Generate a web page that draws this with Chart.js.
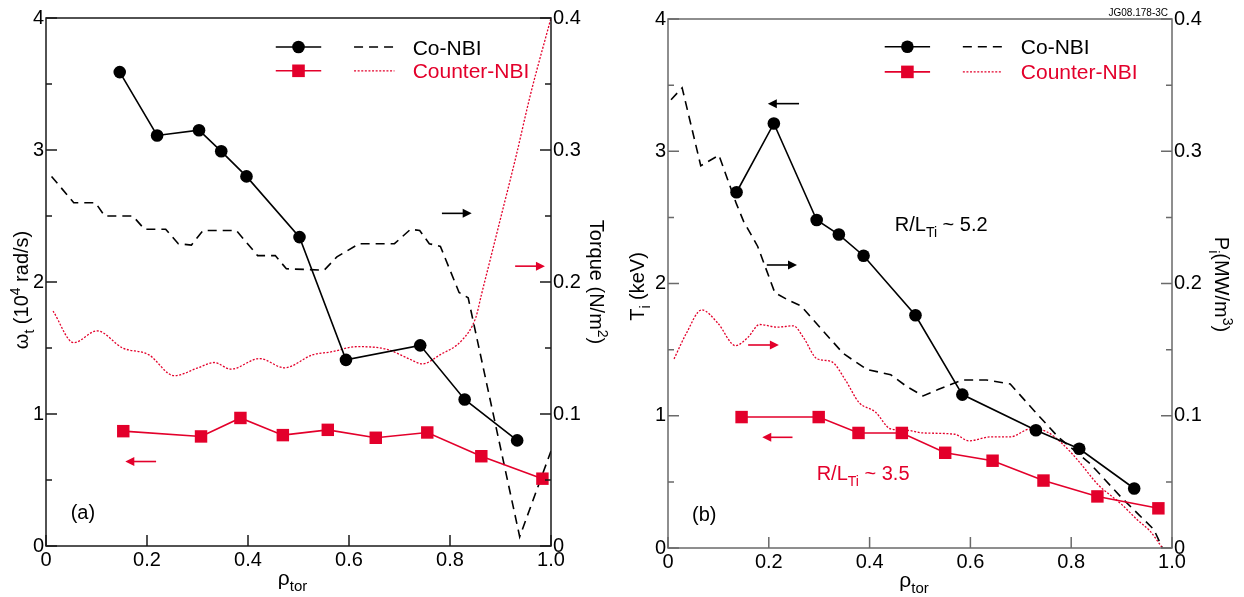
<!DOCTYPE html>
<html>
<head>
<meta charset="utf-8">
<title>Co-NBI / Counter-NBI profiles</title>
<script src="https://cdn.jsdelivr.net/npm/chart.js@4.4.1/dist/chart.umd.min.js"></script>
<style>
  body { margin: 0; background: #fff; }
  #wrap { position: relative; width: 1244px; height: 597px; }
  canvas { position: absolute; top: 0; }
  #chart-a { left: 0; }
  #chart-b { left: 620px; }
</style>
</head>
<body>
<div id="wrap">
  <canvas id="chart-a" width="620" height="597"></canvas>
  <canvas id="chart-b" width="624" height="597"></canvas>
</div>
<script>
const FONT = '"Liberation Sans", Arial, Helvetica, sans-serif'
const BLACK = '#000000'
const RED = '#e3002b'

// tick values and labels (shared by both panels)
const rhoTicks = [0, 0.2, 0.4, 0.6, 0.8, 1.0]
const rhoTickLabels = ['0', '0.2', '0.4', '0.6', '0.8', '1.0']
const leftTicks = [0, 1, 2, 3, 4]
const leftTickLabels = ['0', '1', '2', '3', '4']
const leftMinorTicks = [0.5, 1.5, 2.5, 3.5]
const rightTicks = [0, 0.1, 0.2, 0.3, 0.4]
const rightTickLabels = ['0', '0.1', '0.2', '0.3', '0.4']

// (a) rotation omega_t, Co-NBI (circles, left axis)
const rhoRotCoA = [0.146, 0.220, 0.303, 0.347, 0.397, 0.502, 0.594, 0.741, 0.829, 0.933]
const rotCoA = [3.59, 3.11, 3.15, 2.99, 2.80, 2.34, 1.41, 1.52, 1.11, 0.80]
// (a) rotation omega_t, Counter-NBI (squares, left axis)
const rhoRotCtrA = [0.153, 0.307, 0.385, 0.469, 0.558, 0.653, 0.755, 0.862, 0.983]
const rotCtrA = [0.87, 0.83, 0.97, 0.84, 0.88, 0.82, 0.86, 0.68, 0.51]
// (a) torque, Co-NBI (dashed, right axis)
const rhoTqCoA = [0.011, 0.055, 0.098, 0.116, 0.172, 0.195, 0.237, 0.262, 0.288, 0.311, 0.377, 0.419, 0.454,
  0.476, 0.551, 0.576, 0.620, 0.690, 0.722, 0.740, 0.759, 0.781, 0.818, 0.836, 0.938, 1.0]
const tqCoA = [0.280, 0.260, 0.260, 0.250, 0.250, 0.240, 0.240, 0.229, 0.228, 0.239, 0.239, 0.220, 0.220,
  0.210, 0.209, 0.219, 0.229, 0.229, 0.240, 0.239, 0.229, 0.227, 0.192, 0.188, 0.007, 0.072]
// (a) torque, Counter-NBI (dotted, right axis)
const rhoTqCtrA = [0.014, 0.055, 0.101, 0.152, 0.203, 0.254, 0.301, 0.333, 0.366, 0.423, 0.472, 0.529, 0.564,
  0.616, 0.675, 0.718, 0.745, 0.781, 0.824, 0.851, 0.862, 0.900, 0.930, 0.960, 1.0]
const tqCtrA = [0.178, 0.154, 0.163, 0.150, 0.145, 0.129, 0.135, 0.139, 0.134, 0.142, 0.135, 0.145, 0.147,
  0.151, 0.149, 0.142, 0.138, 0.145, 0.156, 0.173, 0.190, 0.248, 0.294, 0.343, 0.400]

// (b) ion temperature, Co-NBI (circles, left axis)
const rhoTiCoB = [0.136, 0.210, 0.295, 0.339, 0.388, 0.491, 0.584, 0.730, 0.816, 0.925]
const tiCoB = [2.69, 3.21, 2.48, 2.37, 2.21, 1.76, 1.16, 0.89, 0.75, 0.45]
// (b) ion temperature, Counter-NBI (squares, left axis)
const rhoTiCtrB = [0.146, 0.299, 0.378, 0.464, 0.550, 0.644, 0.745, 0.852, 0.973]
const tiCtrB = [0.99, 0.99, 0.87, 0.87, 0.72, 0.66, 0.51, 0.39, 0.30]
// (b) ion heating power, Co-NBI (dashed, right axis)
const rhoPiCoB = [0.006, 0.028, 0.065, 0.101, 0.136, 0.150, 0.178, 0.212, 0.241, 0.264, 0.308, 0.348, 0.395,
  0.442, 0.474, 0.506, 0.537, 0.584, 0.632, 0.679, 0.726, 0.774, 0.837, 0.900, 0.932, 0.964, 0.981]
const piCoB = [0.339, 0.348, 0.289, 0.297, 0.260, 0.247, 0.228, 0.193, 0.187, 0.183, 0.164, 0.147, 0.135,
  0.131, 0.122, 0.115, 0.120, 0.127, 0.127, 0.124, 0.104, 0.084, 0.064, 0.038, 0.026, 0.014, 0]
// (b) ion heating power, Counter-NBI (dotted, right axis)
const rhoPiCtrB = [0.012, 0.036, 0.067, 0.099, 0.134, 0.158, 0.182, 0.217, 0.249, 0.269, 0.296, 0.324, 0.352,
  0.379, 0.411, 0.442, 0.474, 0.506, 0.569, 0.597, 0.640, 0.679, 0.719, 0.751, 0.782, 0.814, 0.853, 0.900,
  0.932, 0.956, 0.981]
const piCtrB = [0.143, 0.162, 0.180, 0.170, 0.153, 0.159, 0.169, 0.167, 0.168, 0.159, 0.143, 0.141, 0.127,
  0.110, 0.103, 0.090, 0.089, 0.087, 0.086, 0.081, 0.084, 0.084, 0.090, 0.088, 0.079, 0.066, 0.048, 0.033,
  0.021, 0.013, 0]

const legendLabels = ['Co-NBI', 'Counter-NBI']

const pts = (xs, ys) => xs.map((x, i) => ({ x, y: ys[i] }))

// draw text made of [text, 'sub'|'sup'|undefined] parts, y is the cap centre
function drawRich(ctx, parts, x, y, o) {
  const size = o.size
  const fontFor = (k) => `${k ? Math.round(size * 0.7) : size}px ${FONT}`
  const widths = parts.map(([t, k]) => {
    ctx.font = fontFor(k)
    return ctx.measureText(t).width
  })
  const total = widths.reduce((a, b) => a + b, 0)
  ctx.save()
  ctx.translate(x, y)
  if (o.rotate) ctx.rotate(o.rotate)
  ctx.fillStyle = o.color || BLACK
  ctx.textBaseline = 'alphabetic'
  ctx.textAlign = 'left'
  let cx = o.align === 'center' ? -total / 2 : o.align === 'right' ? -total : 0
  parts.forEach(([t, k], i) => {
    ctx.font = fontFor(k)
    const dy = k === 'sub' ? size * 0.3 : k === 'sup' ? -size * 0.42 : 0
    ctx.fillText(t, cx, size * 0.36 + dy)
    cx += widths[i]
  })
  ctx.restore()
}

function drawArrow(ctx, x1, x2, y, color) {
  const dir = Math.sign(x2 - x1)
  ctx.save()
  ctx.strokeStyle = color
  ctx.fillStyle = color
  ctx.lineWidth = 1.6
  ctx.beginPath()
  ctx.moveTo(x1, y)
  ctx.lineTo(x2 - dir * 6, y)
  ctx.stroke()
  ctx.beginPath()
  ctx.moveTo(x2, y)
  ctx.lineTo(x2 - dir * 9, y - 4.5)
  ctx.lineTo(x2 - dir * 9, y + 4.5)
  ctx.closePath()
  ctx.fill()
  ctx.restore()
}

// frame, inward ticks, axis titles, legend and notes
const decorPlugin = {
  id: 'decor',
  afterDatasetsDraw(chart, args, o) {
    const { ctx, chartArea: a, scales } = chart
    const sx = scales.x
    const sy = scales.y
    ctx.save()
    ctx.strokeStyle = o.frameColor
    ctx.lineWidth = 1.5
    ctx.strokeRect(a.left, a.top, a.right - a.left, a.bottom - a.top)
    ctx.beginPath()
    rhoTicks.forEach((v) => {
      const px = sx.getPixelForValue(v)
      ctx.moveTo(px, a.bottom)
      ctx.lineTo(px, a.bottom - 11)
    })
    const yTick = (v, len) => {
      const py = sy.getPixelForValue(v)
      ctx.moveTo(a.left, py)
      ctx.lineTo(a.left + len, py)
      ctx.moveTo(a.right, py)
      ctx.lineTo(a.right - len, py)
    }
    leftTicks.forEach((v) => yTick(v, 11))
    leftMinorTicks.forEach((v) => yTick(v, 6))
    ctx.stroke()
    ctx.restore()

    // axis titles
    const midY = (a.top + a.bottom) / 2
    drawRich(ctx, o.leftTitle, a.left + o.leftTitleDx, midY + o.leftTitleDy,
      { size: 20, align: 'center', rotate: -Math.PI / 2 })
    drawRich(ctx, o.rightTitle, a.right + o.rightTitleDx, midY + o.rightTitleDy,
      { size: 20, align: 'center', rotate: Math.PI / 2 })
    drawRich(ctx, [['ρ'], ['tor', 'sub']], (a.left + a.right) / 2 - 6, a.bottom + 31,
      { size: 21, align: 'center' })

    // legend
    const lg = o.legend
    const rows = [
      { y: lg.yCo, color: BLACK, marker: 'circle', dash: [9, 6], label: legendLabels[0] },
      { y: lg.yCtr, color: RED, marker: 'rect', dash: [2, 1.6], label: legendLabels[1] },
    ]
    rows.forEach((r) => {
      const py = sy.getPixelForValue(r.y)
      ctx.save()
      ctx.strokeStyle = r.color
      ctx.fillStyle = r.color
      ctx.lineWidth = 1.6
      ctx.beginPath()
      ctx.moveTo(sx.getPixelForValue(lg.line[0]), py)
      ctx.lineTo(sx.getPixelForValue(lg.line[1]), py)
      ctx.stroke()
      const mx = sx.getPixelForValue((lg.line[0] + lg.line[1]) / 2)
      ctx.beginPath()
      if (r.marker === 'circle') ctx.arc(mx, py, 6.3, 0, Math.PI * 2)
      else ctx.rect(mx - 6.3, py - 6.3, 12.6, 12.6)
      ctx.fill()
      ctx.setLineDash(r.dash)
      ctx.lineWidth = r.marker === 'circle' ? 1.6 : 1.3
      ctx.beginPath()
      ctx.moveTo(sx.getPixelForValue(lg.dash[0]), py)
      ctx.lineTo(sx.getPixelForValue(lg.dash[1]), py)
      ctx.stroke()
      ctx.restore()
      drawRich(ctx, [[r.label]], sx.getPixelForValue(lg.text), py, { size: 21, color: r.color })
    })

    // notes and arrows
    o.notes.forEach((n) => {
      drawRich(ctx, n.parts, sx.getPixelForValue(n.x), sy.getPixelForValue(n.y),
        { size: 20, color: n.color, align: n.align })
    })
    o.arrows.forEach((ar) => {
      drawArrow(ctx, sx.getPixelForValue(ar.x1), sx.getPixelForValue(ar.x2), sy.getPixelForValue(ar.y), ar.color)
    })
    if (o.tag) {
      ctx.save()
      ctx.font = `10px ${FONT}`
      ctx.fillStyle = BLACK
      ctx.textAlign = 'right'
      ctx.textBaseline = 'alphabetic'
      ctx.fillText(o.tag, a.right - 4, a.top - 3)
      ctx.restore()
    }
  },
}

function axisTicks(values, labels) {
  return {
    afterBuildTicks: (scale) => {
      scale.ticks = values.map((v) => ({ value: v }))
    },
    ticks: {
      autoSkip: false,
      maxRotation: 0,
      color: BLACK,
      font: { family: FONT, size: 20 },
      padding: 2,
      callback: (v, i) => labels[i],
    },
    grid: { display: false, drawTicks: false },
    border: { display: false },
  }
}

function makePanel(id, p) {
  const ctx = document.getElementById(id)
  return new Chart(ctx, {
    type: 'line',
    data: {
      datasets: [
        {
          data: p.co,
          yAxisID: 'y',
          borderColor: BLACK,
          backgroundColor: BLACK,
          borderWidth: 1.6,
          pointStyle: 'circle',
          pointRadius: 6.3,
          pointBorderWidth: 0,
          tension: 0,
        },
        {
          data: p.ctr,
          yAxisID: 'y',
          borderColor: RED,
          backgroundColor: RED,
          borderWidth: 1.6,
          pointStyle: 'rect',
          pointRadius: 8.8,
          pointBorderWidth: 0,
          tension: 0,
        },
        {
          data: p.coR,
          yAxisID: 'y1',
          borderColor: BLACK,
          borderWidth: 1.6,
          borderDash: [9, 6],
          pointRadius: 0,
          tension: 0,
        },
        {
          data: p.ctrR,
          yAxisID: 'y1',
          borderColor: RED,
          borderWidth: 1.3,
          borderDash: [2, 1.6],
          pointRadius: 0,
          cubicInterpolationMode: 'monotone',
        },
      ],
    },
    options: {
      responsive: false,
      animation: false,
      events: [],
      layout: { padding: { top: p.top, left: 0, right: 0, bottom: 0 } },
      plugins: {
        legend: { display: false },
        tooltip: { enabled: false },
        decor: p.decor,
      },
      scales: {
        x: {
          type: 'linear',
          min: 0,
          max: 1,
          afterFit: (s) => {
            s.height = p.bottomH
          },
          ...axisTicks(rhoTicks, rhoTickLabels),
        },
        y: {
          position: 'left',
          min: 0,
          max: 4,
          afterFit: (s) => {
            s.width = p.leftW
          },
          ...axisTicks(leftTicks, leftTickLabels),
        },
        y1: {
          position: 'right',
          min: 0,
          max: 0.4,
          afterFit: (s) => {
            s.width = p.rightW
          },
          ...axisTicks(rightTicks, rightTickLabels),
        },
      },
    },
    plugins: [decorPlugin],
  })
}

const charts = {}

charts.a = makePanel('chart-a', {
  co: pts(rhoRotCoA, rotCoA),
  ctr: pts(rhoRotCtrA, rotCtrA),
  coR: pts(rhoTqCoA, tqCoA),
  ctrR: pts(rhoTqCtrA, tqCtrA),
  top: 18,
  bottomH: 51,
  leftW: 46,
  rightW: 69,
  decor: {
    frameColor: '#1a1a1a',
    leftTitle: [['ω'], ['t', 'sub'], [' (10'], ['4', 'sup'], [' rad/s)']],
    leftTitleDx: -25,
    leftTitleDy: 8,
    rightTitle: [['Torque (N/m'], ['2', 'sup'], [')']],
    rightTitleDx: 46,
    rightTitleDy: 0,
    legend: { line: [0.455, 0.545], dash: [0.61, 0.69], text: 0.726, yCo: 3.78, yCtr: 3.6 },
    notes: [{ parts: [['(a)']], x: 0.073, y: 0.26, color: BLACK, align: 'center' }],
    arrows: [
      { x1: 0.784, x2: 0.843, y: 2.52, color: BLACK },
      { x1: 0.929, x2: 0.988, y: 2.12, color: RED },
      { x1: 0.218, x2: 0.157, y: 0.64, color: RED },
    ],
  },
})

charts.b = makePanel('chart-b', {
  co: pts(rhoTiCoB, tiCoB),
  ctr: pts(rhoTiCtrB, tiCtrB),
  coR: pts(rhoPiCoB, piCoB),
  ctrR: pts(rhoPiCtrB, piCtrB),
  top: 19,
  bottomH: 49,
  leftW: 48,
  rightW: 72,
  decor: {
    frameColor: '#6a6a6a',
    leftTitle: [['T'], ['i', 'sub'], [' (keV)']],
    leftTitleDx: -31,
    leftTitleDy: 3,
    rightTitle: [['P'], ['i', 'sub'], ['(MW/m'], ['3', 'sup'], [')']],
    rightTitleDx: 50,
    rightTitleDy: 1,
    legend: { line: [0.43, 0.52], dash: [0.585, 0.663], text: 0.7, yCo: 3.79, yCtr: 3.6 },
    notes: [
      { parts: [['(b)']], x: 0.072, y: 0.26, color: BLACK, align: 'center' },
      { parts: [['R/L'], ['Ti', 'sub'], [' ~ 5.2']], x: 0.45, y: 2.45, color: BLACK },
      { parts: [['R/L'], ['Ti', 'sub'], [' ~ 3.5']], x: 0.295, y: 0.57, color: RED },
    ],
    arrows: [
      { x1: 0.26, x2: 0.198, y: 3.36, color: BLACK },
      { x1: 0.196, x2: 0.256, y: 2.14, color: BLACK },
      { x1: 0.159, x2: 0.22, y: 1.535, color: RED },
      { x1: 0.247, x2: 0.187, y: 0.837, color: RED },
    ],
    tag: 'JG08.178-3C',
  },
})
</script>
</body>
</html>
